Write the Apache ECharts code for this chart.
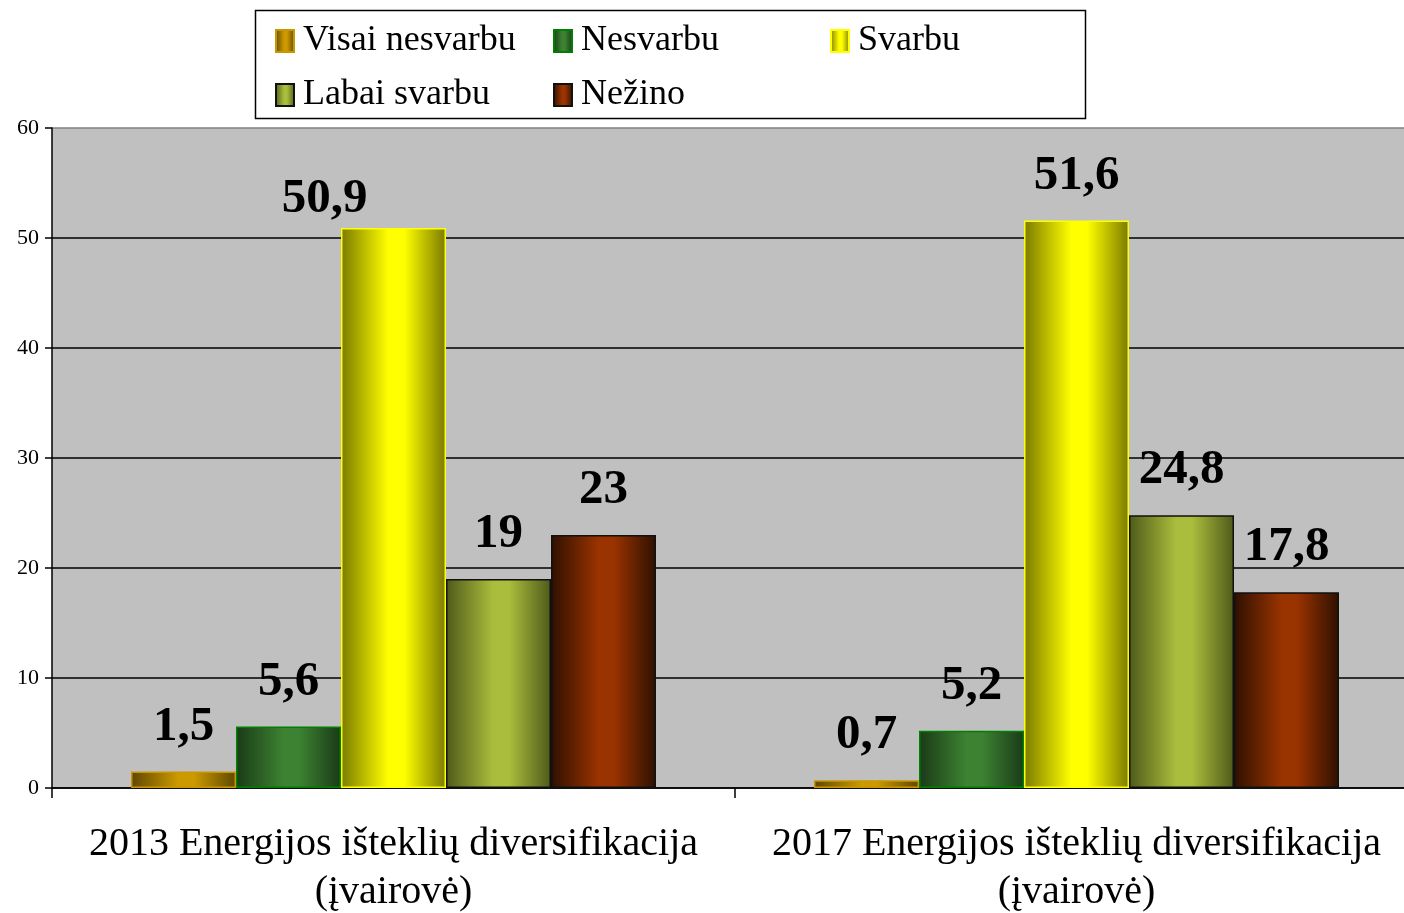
<!DOCTYPE html>
<html>
<head>
<meta charset="utf-8">
<script src="https://cdn.jsdelivr.net/npm/echarts@6/dist/echarts.min.js"></script>
<style>
  html, body { margin: 0; padding: 0; background: #fff; }
  #chart { width: 1404px; height: 913px; }
</style>
</head>
<body>
<div id="chart"></div>
<script>
(function () {
  'use strict';

  const categories = [
    '2013 Energijos išteklių diversifikacija\n(įvairovė)',
    '2017 Energijos išteklių diversifikacija\n(įvairovė)'
  ];
  const seriesNames = ['Visai nesvarbu', 'Nesvarbu', 'Svarbu', 'Labai svarbu', 'Nežino'];
  const visaiNesvarbu = [1.5, 0.7];
  const nesvarbu = [5.6, 5.2];
  const svarbu = [50.9, 51.6];
  const labaiSvarbu = [19, 24.8];
  const nezino = [23, 17.8];
  const yTicks = [0, 10, 20, 30, 40, 50, 60];

  const serif = '"Liberation Serif", "DejaVu Serif", serif';

  // dark edge, bright middle, border
  const styles = [
    { dark: '#5e4700', light: '#cc9900', border: '#c89600' },
    { dark: '#1a3a17', light: '#3c8232', border: '#008000' },
    { dark: '#7a7a00', light: '#ffff00', border: '#ffff00' },
    { dark: '#4f5a1a', light: '#abbd3c', border: '#111111' },
    { dark: '#2e1000', light: '#993300', border: '#111111' }
  ];

  function grad(s) {
    return {
      type: 'linear', x: 0, y: 0, x2: 1, y2: 0,
      colorStops: [
        { offset: 0, color: s.dark },
        { offset: 0.45, color: s.light },
        { offset: 0.6, color: s.light },
        { offset: 1, color: s.dark }
      ]
    };
  }

  function fmt(p) { return String(p.value).replace('.', ','); }

  const values = [visaiNesvarbu, nesvarbu, svarbu, labaiSvarbu, nezino];
  const series = seriesNames.map(function (name, i) {
    const data = values[i].map(function (v, j) {
      // the 2013 "Svarbu" label sits left of its bar, clear of the legend
      if (i === 2 && j === 0) return { value: v, label: { offset: [-69, 16] } };
      return v;
    });
    return {
      name: name,
      type: 'bar',
      data: data,
      barWidth: 105,
      barGap: '0%',
      itemStyle: { color: grad(styles[i]), borderColor: styles[i].border, borderWidth: 1.5 },
      label: {
        show: true, position: 'top', distance: 20, formatter: fmt,
        fontFamily: serif, fontWeight: 'bold', fontSize: 49, color: '#000'
      }
    };
  });

  // legend placed in a two-row grid, one component per item
  const legendPos = [[270, 18], [548, 18], [825, 18], [270, 72], [548, 72]];
  const legends = seriesNames.map(function (name, i) {
    return {
      data: [name], left: legendPos[i][0], top: legendPos[i][1],
      icon: 'rect', itemWidth: 18, itemHeight: 22, itemGap: 0,
      textStyle: { fontFamily: serif, fontSize: 36, color: '#000', padding: [0, 0, 0, 4] },
      selectedMode: false
    };
  });

  const chart = echarts.init(document.getElementById('chart'), null, { renderer: 'canvas' });
  chart.setOption({
    animation: false,
    backgroundColor: '#fff',
    graphic: [{
      type: 'rect', left: 253, top: 8,
      shape: { width: 830, height: 108 },
      style: { fill: 'none', stroke: '#000', lineWidth: 1.5 },
      z: 10
    }],
    legend: legends,
    grid: {
      left: 52, right: -14, top: 128, bottom: 125,
      outerBoundsMode: 'none', containLabel: false,
      show: true, backgroundColor: '#c0c0c0', borderWidth: 0
    },
    xAxis: {
      type: 'category', data: categories,
      axisLine: { lineStyle: { color: '#000', width: 1.5 } },
      axisTick: { show: true, length: 10, lineStyle: { color: '#000', width: 1.5 } },
      axisLabel: {
        interval: 0, hideOverlap: false,
        fontFamily: serif, fontSize: 40, color: '#000', lineHeight: 48, margin: 32
      }
    },
    yAxis: {
      type: 'value', min: yTicks[0], max: yTicks[yTicks.length - 1], interval: 10,
      axisLine: { show: true, lineStyle: { color: '#000', width: 1.5 } },
      axisTick: { show: true, length: 7, lineStyle: { color: '#000', width: 1.5 } },
      axisLabel: { fontFamily: serif, fontSize: 22, color: '#000', margin: 13 },
      splitLine: {
        lineStyle: {
          color: ['#000', '#000', '#000', '#000', '#000', '#000', '#808080'],
          width: 1.5
        }
      }
    },
    series: series
  });
})();
</script>
</body>
</html>
